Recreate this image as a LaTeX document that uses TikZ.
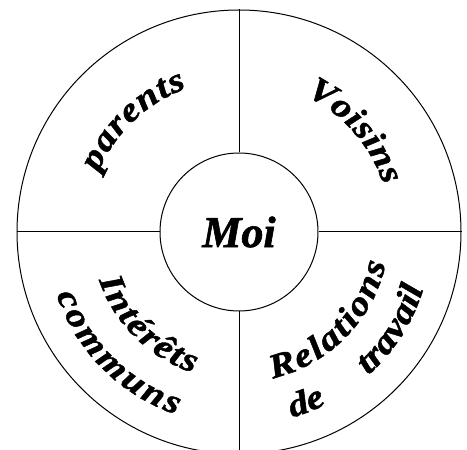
\documentclass[tikz,border=0pt]{standalone}
\usepackage{fontspec}
\setmainfont{Liberation Serif}
\usetikzlibrary{decorations.text}
\newcommand\motfont{\bfseries\itshape\fontsize{34}{34}\selectfont\addfontfeatures{FakeStretch=1.15,FakeBold=1.5}}
\begin{document}
\begin{tikzpicture}[x=1pt,y=1pt,
  trait/.style={line width=1pt},
  mot/.style={decorate,decoration={text along path,text align={fit to path},text={|\motfont|#1}}},
  motespace/.style={mot=#1,decoration={text align={fit to path stretching spaces}}}]
\useasboundingbox (0,0) rectangle (467,450);
\clip (0,0) rectangle (467,450);
\coordinate (O) at (239,218);

\node[draw,trait,circle,minimum size=444pt,inner sep=0pt] (cercle) at (O) {};
\node[draw,trait,circle,minimum size=158pt,inner sep=0pt,
  font=\bfseries\itshape\fontsize{44}{44}\selectfont\addfontfeatures{FakeBold=1.5}] (moi) at (O) {Moi};

\draw[trait] (moi.north)--(cercle.north);
\draw[trait] (moi.south)--(cercle.south);
\draw[trait] (moi.west)--(cercle.west);
\draw[trait] (moi.east)--(cercle.east);

\begin{scope}[shift={(O)}]
\path[mot=parents] (157:153) arc[start angle=157,end angle=110,radius=153];
\path[mot=Voisins] (64:152) arc[start angle=64,end angle=18,radius=152];
\path[mot=Intérêts] (199:148) arc[start angle=199,end angle=252,radius=148];
\path[mot=communs] (199:193) arc[start angle=199,end angle=251,radius=193];
\path[mot=Relations] (283:150) arc[start angle=283,end angle=348,radius=150];
\path[motespace={de travail}] (286:193) arc[start angle=286,end angle=343,radius=193];
\end{scope}

\end{tikzpicture}
\end{document}
